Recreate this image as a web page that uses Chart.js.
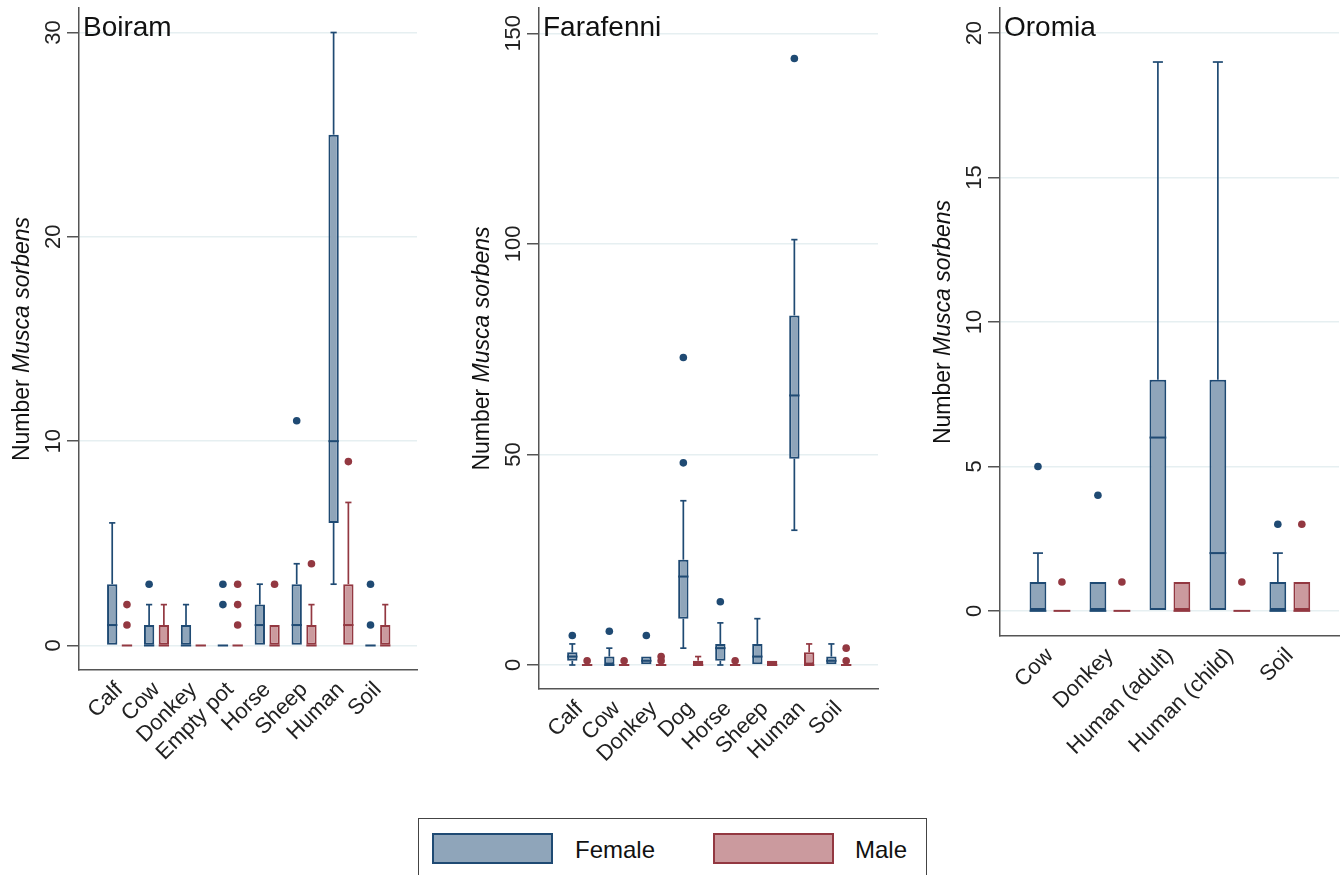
<!DOCTYPE html>
<html lang="en">
<head>
  <meta charset="UTF-8">
  <title>Musca sorbens by source and sex</title>
  <script src="https://cdn.jsdelivr.net/npm/chart.js"></script>
  <style>
    body { margin:0; background:#fff; width:1341px; height:875px; overflow:hidden; position:relative; font-family:"Liberation Sans", Arial, sans-serif; }
    canvas { position:absolute; top:0; }
    #legend { position:absolute; left:418px; top:818px; width:509px; height:70px; border:1.5px solid #444; box-sizing:border-box; }
    .sw { position:absolute; top:14px; width:121px; height:31px; box-sizing:border-box; border:2.5px solid; }
    .lab { position:absolute; top:17px; font-size:24px; color:#111; }
  </style>
</head>
<body>
  <canvas id="boiram" width="420" height="800" style="left:0px"></canvas>
  <canvas id="farafenni" width="420" height="800" style="left:460px"></canvas>
  <canvas id="oromia" width="420" height="800" style="left:921px"></canvas>

  <div id="legend">
    <div class="sw" style="left:13px;background:#8fa5ba;border-color:#1f4a73"></div>
    <div class="lab" style="left:156px">Female</div>
    <div class="sw" style="left:294px;background:#cb9a9e;border-color:#933841"></div>
    <div class="lab" style="left:436px">Male</div>
  </div>

<script>
// each box: [lower whisker, q1, median, q3, upper whisker]
const boiramCats = ['Calf','Cow','Donkey','Empty pot','Horse','Sheep','Human','Soil'];
const boiramFemale = [[0,0,1,3,6],[0,0,0,1,2],[0,0,0,1,2],[0,0,0,0,0],[0,0,1,2,3],[0,0,1,3,4],[3,6,10,25,30],[0,0,0,0,0]];
const boiramFemaleOut = [[],[3],[],[2,3],[],[11],[],[1,3]];
const boiramMale = [[0,0,0,0,0],[0,0,0,1,2],[0,0,0,0,0],[0,0,0,0,0],[0,0,0,1,1],[0,0,0,1,2],[0,0,1,3,7],[0,0,0,1,2]];
const boiramMaleOut = [[1,2],[],[],[1,2,3],[3],[4],[9],[]];
const boiramTicks = [0,10,20,30];

const farafenniCats = ['Calf','Cow','Donkey','Dog','Horse','Sheep','Human','Soil'];
const farafenniFemale = [[0,1,2,3,5],[0,0,0,2,4],[0,0,1,2,2],[4,11,21,25,39],[0,1,4,5,10],[0,0,2,5,11],[32,49,64,83,101],[0,0,1,2,5]];
const farafenniFemaleOut = [[7],[8],[7],[48,73],[15],[],[144],[]];
const farafenniMale = [[0,0,0,0,0],[0,0,0,0,0],[0,0,0,0,0],[0,0,0,1,2],[0,0,0,0,0],[0,0,0,1,1],[0,0,0,3,5],[0,0,0,0,0]];
const farafenniMaleOut = [[1],[1],[1,2],[],[1],[],[],[1,4]];
const farafenniTicks = [0,50,100,150];

const oromiaCats = ['Cow','Donkey','Human (adult)','Human (child)','Soil'];
const oromiaFemale = [[0,0,0,1,2],[0,0,0,1,1],[0,0,6,8,19],[0,0,2,8,19],[0,0,0,1,2]];
const oromiaFemaleOut = [[5],[4],[],[],[3]];
const oromiaMale = [[0,0,0,0,0],[0,0,0,0,0],[0,0,0,1,1],[0,0,0,0,0],[0,0,0,1,1]];
const oromiaMaleOut = [[1],[1],[],[1],[3]];
const oromiaTicks = [0,5,10,15,20];

const FEMALE = { fill:'#8fa5ba', line:'#1f4a73' };
const MALE = { fill:'#cb9a9e', line:'#933841' };
const FONT = '"Liberation Sans", Arial, sans-serif';

// whiskers, medians and outside values drawn around the floating bars
const boxPlot = {
  id:'boxPlot',
  beforeDatasetsDraw(chart){
    const ctx = chart.ctx, y = chart.scales.y;
    chart.data.datasets.forEach((ds, d) => {
      chart.getDatasetMeta(d).data.forEach((bar, i) => {
        const s = ds.stats[i], cap = bar.width * 0.6;
        ctx.save();
        ctx.strokeStyle = ds.borderColor; ctx.lineWidth = 1.7;
        if (s[4] > s[3]) {
          ctx.beginPath(); ctx.moveTo(bar.x, y.getPixelForValue(s[3])); ctx.lineTo(bar.x, y.getPixelForValue(s[4])); ctx.stroke();
          ctx.beginPath(); ctx.moveTo(bar.x-cap/2, y.getPixelForValue(s[4])); ctx.lineTo(bar.x+cap/2, y.getPixelForValue(s[4])); ctx.stroke();
        }
        if (s[0] < s[1]) {
          ctx.beginPath(); ctx.moveTo(bar.x, y.getPixelForValue(s[1])); ctx.lineTo(bar.x, y.getPixelForValue(s[0])); ctx.stroke();
          ctx.beginPath(); ctx.moveTo(bar.x-cap/2, y.getPixelForValue(s[0])); ctx.lineTo(bar.x+cap/2, y.getPixelForValue(s[0])); ctx.stroke();
        }
        ctx.restore();
      });
    });
  },
  afterDatasetsDraw(chart){
    const ctx = chart.ctx, y = chart.scales.y;
    chart.data.datasets.forEach((ds, d) => {
      chart.getDatasetMeta(d).data.forEach((bar, i) => {
        const s = ds.stats[i];
        ctx.save();
        ctx.strokeStyle = ds.borderColor; ctx.lineWidth = 2;
        const my = y.getPixelForValue(s[2]);
        ctx.beginPath(); ctx.moveTo(bar.x-bar.width/2, my); ctx.lineTo(bar.x+bar.width/2, my); ctx.stroke();
        ctx.fillStyle = ds.borderColor;
        ds.outliers[i].forEach(v => {
          ctx.beginPath(); ctx.arc(bar.x, y.getPixelForValue(v), 3.8, 0, Math.PI*2); ctx.fill();
        });
        ctx.restore();
      });
    });
  }
};

const panelText = {
  id:'panelText',
  afterDraw(chart, args, opts){
    const {ctx, chartArea} = chart;
    ctx.save();
    ctx.fillStyle = '#111';
    ctx.font = '28px ' + FONT;
    ctx.textAlign = 'left'; ctx.textBaseline = 'alphabetic';
    ctx.fillText(opts.title, chartArea.left + 4, chartArea.top + 28);
    const a = 'Number ', b = 'Musca sorbens';
    ctx.font = '23px ' + FONT; const wa = ctx.measureText(a).width;
    ctx.font = 'italic 23px ' + FONT; const wb = ctx.measureText(b).width;
    ctx.translate(23, (chartArea.top + chartArea.bottom) / 2);
    ctx.rotate(-Math.PI / 2);
    ctx.textBaseline = 'middle';
    ctx.font = '23px ' + FONT; ctx.fillText(a, -(wa + wb) / 2, 0);
    ctx.font = 'italic 23px ' + FONT; ctx.fillText(b, -(wa + wb) / 2 + wa, 0);
    ctx.restore();
  }
};

function makePanel(id, p){
  const boxes = (stats, outs, col, label) => ({
    label, stats, outliers: outs,
    data: p.cats.map((c, i) => ({ x: i + 1, y: [stats[i][1], stats[i][3]] })),
    backgroundColor: col.fill, borderColor: col.line, borderWidth: 2, borderSkipped: false,
    categoryPercentage: 0.8, barPercentage: 0.7
  });
  return new Chart(document.getElementById(id), {
    type: 'bar',
    data: { datasets: [
      boxes(p.female, p.femaleOut, FEMALE, 'Female'),
      boxes(p.male, p.maleOut, MALE, 'Male')
    ]},
    options: {
      responsive: false, animation: false,
      layout: { padding: { top: 8, right: p.right, left: 0, bottom: 0 } },
      plugins: { legend: { display: false }, tooltip: { enabled: false }, panelText: { title: p.title } },
      scales: {
        x: {
          type: 'linear', offset: false, min: p.xMin, max: p.xMax,
          afterBuildTicks: s => { s.ticks = p.cats.map((c, i) => ({ value: i + 1 })); },
          afterFit: s => { s.height = p.axisH; s.paddingLeft = 0; s.paddingRight = 0; },
          grid: { display: false, drawTicks: false },
          border: { display: true, color: '#555', width: 1.5 },
          ticks: { autoSkip: false, minRotation: 45, maxRotation: 45, padding: 7, color: '#222',
                   font: { family: FONT, size: 22 }, callback: v => p.cats[v - 1] }
        },
        y: {
          min: p.yMin, max: p.yMax,
          afterBuildTicks: s => { s.ticks = p.yTicks.map(v => ({ value: v })); },
          afterFit: s => { s.width = 79; s.paddingTop = 0; s.paddingBottom = 0; },
          grid: { color: '#e6eff1', lineWidth: 1.5, tickColor: '#555', tickLength: 12, tickWidth: 1.5 },
          border: { display: true, color: '#555', width: 1.5 },
          ticks: { minRotation: 90, maxRotation: 90, crossAlign: 'center', padding: p.tickPad, color: '#222',
                   font: { family: FONT, size: 22 } }
        }
      }
    },
    plugins: [boxPlot, panelText]
  });
}

makePanel('boiram', { title:'Boiram', cats:boiramCats, female:boiramFemale, femaleOut:boiramFemaleOut,
  male:boiramMale, maleOut:boiramMaleOut, yTicks:boiramTicks, yMin:-1.2, yMax:31.2,
  xMin:-0.1, xMax:9.06, axisH:130, right:3, tickPad:1 });
makePanel('farafenni', { title:'Farafenni', cats:farafenniCats, female:farafenniFemale, femaleOut:farafenniFemaleOut,
  male:farafenniMale, maleOut:farafenniMaleOut, yTicks:farafenniTicks, yMin:-5.7, yMax:156,
  xMin:-0.1, xMax:9.06, axisH:111, right:2, tickPad:-5 });
makePanel('oromia', { title:'Oromia', cats:oromiaCats, female:oromiaFemale, femaleOut:oromiaFemaleOut,
  male:oromiaMale, maleOut:oromiaMaleOut, yTicks:oromiaTicks, yMin:-0.87, yMax:20.87,
  xMin:0.167, xMax:5.82, axisH:164, right:2, tickPad:1 });
</script>
</body>
</html>
